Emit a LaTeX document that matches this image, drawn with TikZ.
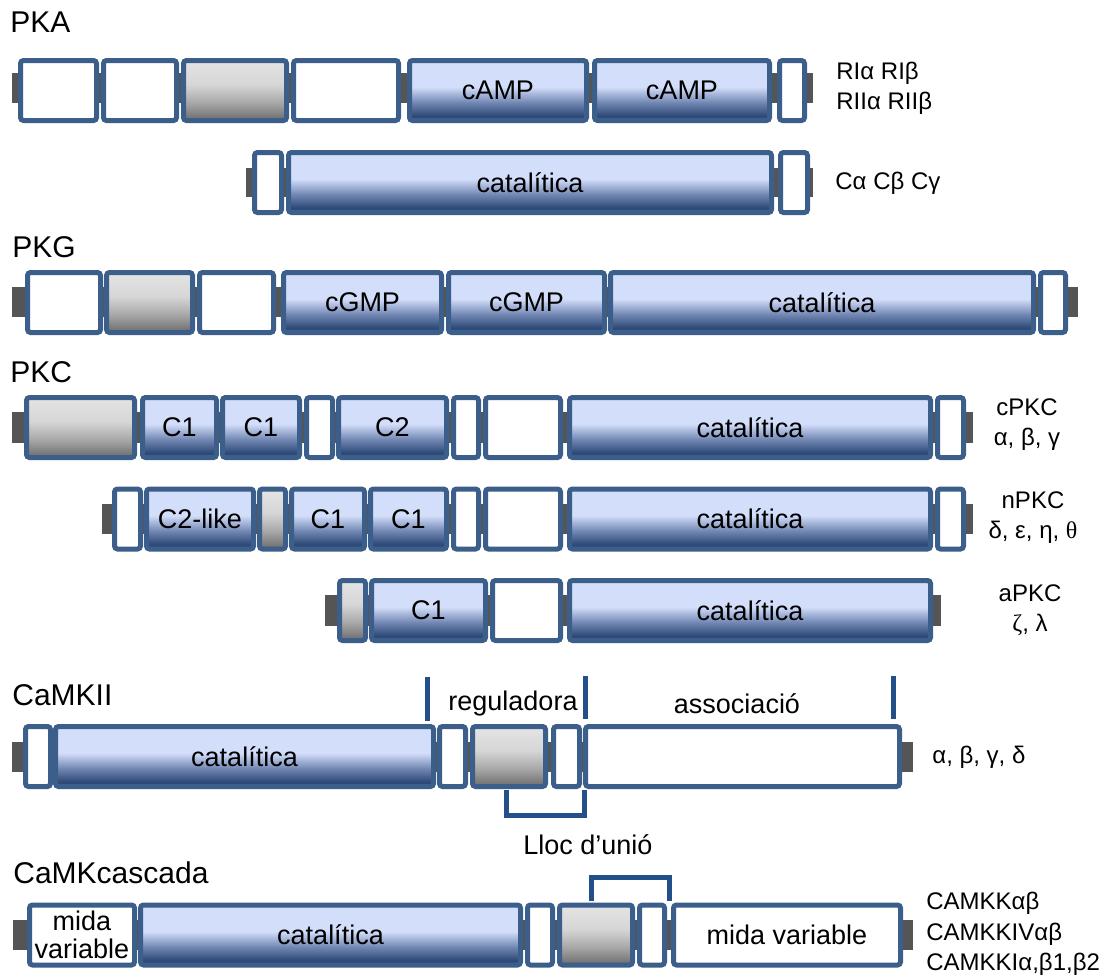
\documentclass[tikz,border=0pt]{standalone}
\usepackage{fontspec}
\setmainfont{Liberation Sans}
\newfontfamily\grserif{Liberation Serif}
\usetikzlibrary{positioning}

\definecolor{bordc}{HTML}{3B5E8A}
\definecolor{brkc}{HTML}{24508A}
\definecolor{stubc}{HTML}{555555}
\definecolor{bdk}{HTML}{2F4A78}
\definecolor{bmd}{HTML}{7187B3}
\definecolor{blt}{HTML}{D3DEFA}
\definecolor{bhi}{HTML}{C8D8E6}
\definecolor{gdk}{HTML}{6B6B6B}
\definecolor{gmd}{HTML}{A8A8A8}
\definecolor{glt}{HTML}{D6D6D6}
\definecolor{ghi}{HTML}{E4E4E4}

\pgfdeclareverticalshading{bluedom}{100bp}{color(0bp)=(bdk); color(25bp)=(bdk);
  color(29bp)=(bdk); color(40bp)=(bmd); color(53bp)=(blt); color(73bp)=(blt); color(75bp)=(bhi); color(100bp)=(bhi)}
\pgfdeclareverticalshading{graydom}{100bp}{color(0bp)=(gdk); color(25bp)=(gdk);
  color(40bp)=(gmd); color(55bp)=(glt); color(75bp)=(ghi); color(100bp)=(ghi)}

\tikzset{
  dom/.style={draw=bordc, line width=2.5pt, rounded corners=1.5pt, inner sep=0pt,
    outer sep=1.25pt, minimum height=30pt, anchor=west, align=center,
    font=\fontsize{13.5}{14}\selectfont},
  wdom/.style={dom, fill=white},
  bdom/.style={dom, shading=bluedom},
  gdom/.style={dom, shading=graydom},
  len/.style={minimum width={(#1-5)*0.5pt}},
  stub/.style={fill=stubc},
  brk/.style={draw=brkc, line width=2.5pt},
  title/.style={anchor=west, inner sep=0pt, font=\fontsize{15}{16}\selectfont},
  iso/.style={inner sep=0pt, font=\fontsize{12}{15}\selectfont},
  part/.style={inner sep=0pt, font=\fontsize{13.5}{15}\selectfont},
}

\begin{document}
\begin{tikzpicture}[x=0.5pt,y=-0.5pt]
\useasboundingbox (0,0) rectangle (1100,976);

% PKA
\node[title] (tpka) at (10,22) {PKA};
\fill[stub] (12,73) rectangle (813,103);
\node[wdom, len=81] (pka1) at (18,90.5) {};
\node[wdom, len=78] (pka2) at (101,90.5) {};
\node[gdom, len=108] (pka3) at (181,90.5) {};
\node[wdom, len=110] (pka4) at (291,90.5) {};
\node[bdom, len=182] (pka5) at (407,90.5) {cAMP};
\node[bdom, len=180] (pka6) at (592,90.5) {cAMP};
\node[wdom, len=30] (pka7) at (777,90.5) {};
\node[iso, anchor=west, align=left] (lpka) at (836,88) {RIα RIβ\\RIIα RIIβ};

\fill[stub] (246,168) rectangle (813,197);
\node[wdom, len=32] (pkac1) at (252,182.5) {};
\node[bdom, len=488] (pkac2) at (286,182.5) {catalítica};
\node[wdom, len=32] (pkac3) at (778,182.5) {};
\node[iso, anchor=west] (lpkac) at (835,183) {Cα Cβ Cγ};

% PKG
\node[title] (tpkg) at (12,247) {PKG};
\fill[stub] (12,287) rectangle (1078,317);
\node[wdom, len=78] (pkg1) at (25,302.5) {};
\node[gdom, len=91] (pkg2) at (104,302.5) {};
\node[wdom, len=79] (pkg3) at (197,302.5) {};
\node[bdom, len=163] (pkg4) at (281,302.5) {cGMP};
\node[bdom, len=161] (pkg5) at (446,302.5) {cGMP};
\node[bdom, len=428] (pkg6) at (608,302.5) {catalítica};
\node[wdom, len=30] (pkg7) at (1038,302.5) {};

% PKC
\node[title] (tpkc) at (10,372) {PKC};
\fill[stub] (12,412) rectangle (973,443);
\node[gdom, len=113] (cpkc1) at (24,427.5) {};
\node[bdom, len=79] (cpkc2) at (140,427.5) {C1};
\node[bdom, len=82] (cpkc3) at (220,427.5) {C1};
\node[wdom, len=31] (cpkc4) at (304,427.5) {};
\node[bdom, len=113] (cpkc5) at (336,427.5) {C2};
\node[wdom, len=30] (cpkc6) at (451,427.5) {};
\node[wdom, len=80] (cpkc7) at (483,427.5) {};
\node[bdom, len=366] (cpkc8) at (567,427.5) {catalítica};
\node[wdom, len=31] (cpkc9) at (935,427.5) {};
\node[iso, align=center] (lcpkc) at (1027,425) {cPKC\\α, β, γ};

\fill[stub] (102,504) rectangle (973,534);
\node[wdom, len=31] (npkc1) at (112,519) {};
\node[bdom, len=112] (npkc2) at (144,519) {C2-like};
\node[gdom, len=31] (npkc3) at (257,519) {};
\node[bdom, len=78] (npkc4) at (289,519) {C1};
\node[bdom, len=81] (npkc5) at (368,519) {C1};
\node[wdom, len=30] (npkc6) at (451,519) {};
\node[wdom, len=80] (npkc7) at (483,519) {};
\node[bdom, len=366] (npkc8) at (567,519) {catalítica};
\node[wdom, len=31] (npkc9) at (935,519) {};
\node[iso, align=center] (lnpkc) at (1033,518) {nPKC\\δ, ε, η, {\grserif θ}};

\fill[stub] (325,595) rectangle (941,626);
\node[gdom, len=31] (apkc1) at (337,610.5) {};
\node[bdom, len=119] (apkc2) at (369,610.5) {C1};
\node[wdom, len=73] (apkc3) at (490,610.5) {};
\node[bdom, len=366] (apkc4) at (567,610.5) {catalítica};
\node[iso, align=center] (lapkc) at (1030,610) {aPKC\\{\grserif ζ}, λ};

% CaMKII
\node[title] (tcamk) at (12,695) {CaMKII};
\draw[brk] (427,677) -- (427,721);
\draw[brk] (585,676) -- (585,719);
\draw[brk] (893,676) -- (893,719);
\node[part] (lreg) at (513,704) {reguladora};
\node[part] (lass) at (737,704) {associació};
\fill[stub] (12,742) rectangle (913,772);
\node[wdom, len=30] (camk1) at (23,756.5) {};
\node[bdom, len=383] (camk2) at (53,756.5) {catalítica};
\node[wdom, len=31] (camk3) at (437,756.5) {};
\node[gdom, len=78] (camk4) at (470,756.5) {};
\node[wdom, len=31] (camk5) at (551,756.5) {};
\node[wdom, len=319] (camk6) at (583,756.5) {};
\node[iso, anchor=west] (lcamk) at (932,757) {α, β, γ, δ};
\draw[brk] (506,790) -- (506,815) -- (584,815) -- (584,790);

% CaMK cascada
\node[part] (lunio) at (588,845) {Lloc d’unió};
\node[title] (tcas) at (13,873) {CaMKcascada};
\draw[brk] (591,901) -- (591,877) -- (669,877) -- (669,901);
\fill[stub] (13,920) rectangle (913,950);
\node[wdom, len=110] (cas1) at (27,935) {mida\\variable};
\node[bdom, len=385] (cas2) at (138,935) {catalítica};
\node[wdom, len=30] (cas3) at (525,935) {};
\node[gdom, len=78] (cas4) at (557,935) {};
\node[wdom, len=30] (cas5) at (637,935) {};
\node[wdom, len=232] (cas6) at (671,935) {mida variable};
\node[iso, anchor=west, align=left, font=\fontsize{12}{15.25}\selectfont] (lcas) at (926,934) {CAMKKαβ\\CAMKKIVαβ\\CAMKKIα,β1,β2};
\end{tikzpicture}
\end{document}
